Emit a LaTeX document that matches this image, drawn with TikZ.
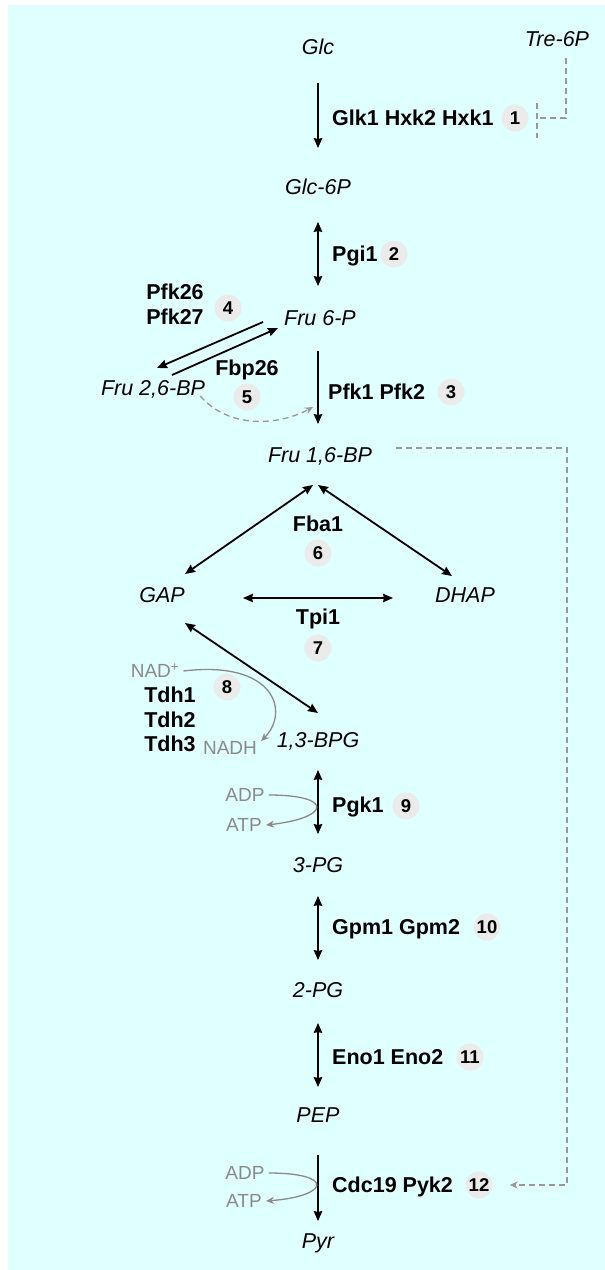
\documentclass[tikz,border=0pt]{standalone}
\usepackage{fontspec}
\setmainfont{Liberation Sans}
\usetikzlibrary{arrows.meta}

\definecolor{bgcyan}{HTML}{E0FFFF}
\definecolor{numgray}{HTML}{EBEBEB}
\definecolor{cofgray}{HTML}{8A8A8A}
\definecolor{reggray}{HTML}{999999}

\tikzset{
    met/.style={inner sep=0, text height=15.5pt, text depth=0pt,
        font=\fontsize{21.5}{25}\selectfont\itshape},
    enz/.style={inner sep=0, text height=15.5pt, text depth=0pt,
        font=\fontsize{21.5}{25}\selectfont\bfseries},
    num/.style={circle, fill=numgray, minimum size=27pt, inner sep=0,
        font=\fontsize{18.5}{20}\selectfont\bfseries},
    cof/.style={inner xsep=4pt, inner ysep=0, text height=13.5pt, text depth=0pt,
        text=cofgray, font=\fontsize{19}{22}\selectfont},
    reg/.style={draw=reggray, line width=1.3pt, dash pattern=on 6pt off 4pt}
}

\begin{document}
\begin{tikzpicture}[x=1pt, y=1pt]
\useasboundingbox (0, 0) rectangle (605, -1270);
\fill[bgcyan] (8, -5) rectangle (605, -1270);

% metabolites
\begin{scope}[every node/.style={met}]
    \node (glc) at (318, -47) {Glc};
    \node (tre6p) at (557, -39) {Tre-6P};
    \node (glc6p) at (318, -187) {Glc-6P};
    \node (fru6p) at (320, -318) {Fru 6-P};
    \node (fru26bp) at (153, -388) {Fru 2,6-BP};
    \node (fru16bp) at (320, -455) {Fru 1,6-BP};
    \node (gap) at (162, -595) {GAP};
    \node (dhap) at (465, -595) {DHAP};
    \node (bpg13) at (318, -740) {1,3-BPG};
    \node (pg3) at (318, -865) {3-PG};
    \node (pg2) at (318, -990) {2-PG};
    \node (pep) at (318, -1115) {PEP};
    \node (pyr) at (318, -1241) {Pyr};
\end{scope}

% enzymes
\begin{scope}[every node/.style={enz}]
    \node[anchor=west] (glk) at (332, -118) {Glk1 Hxk2 Hxk1};
    \node[anchor=west] (pgi) at (332, -254) {Pgi1};
    \node[anchor=west] (pfk) at (328, -392) {Pfk1 Pfk2};
    \node (pfk26) at (175, -292) {Pfk26};
    \node (pfk27) at (175, -317) {Pfk27};
    \node (fbp) at (247, -368) {Fbp26};
    \node (fba) at (318, -524) {Fba1};
    \node (tpi) at (318, -617) {Tpi1};
    \node (tdh1) at (170, -695) {Tdh1};
    \node (tdh2) at (170, -720) {Tdh2};
    \node (tdh3) at (170, -744) {Tdh3};
    \node[anchor=west] (pgk) at (332, -805) {Pgk1};
    \node[anchor=west] (gpm) at (332, -927) {Gpm1 Gpm2};
    \node[anchor=west] (eno) at (332, -1057) {Eno1 Eno2};
    \node[anchor=west] (pyk) at (332, -1185) {Cdc19 Pyk2};
\end{scope}

% step numbers
\begin{scope}[every node/.style={num}]
    \node (c1) at (515, -118) {1};
    \node (c2) at (394, -254) {2};
    \node (c3) at (451, -392) {3};
    \node (c4) at (228, -308) {4};
    \node (c5) at (247, -397) {5};
    \node (c6) at (318, -553) {6};
    \node (c7) at (318, -648) {7};
    \node (c8) at (227, -687) {8};
    \node (c9) at (406, -806) {9};
    \node (c10) at (487, -927) {10};
    \node (c11) at (470, -1057) {11};
    \node (c12) at (479, -1185) {12};
\end{scope}

% cofactors
\begin{scope}[every node/.style={cof}]
    \node (nad) at (155, -671) {NAD\textsuperscript{+}};
    \node (nadh) at (230, -748) {NADH};
    \node (adp1) at (245, -795) {ADP};
    \node (atp1) at (244, -825) {ATP};
    \node (adp2) at (245, -1173) {ADP};
    \node (atp2) at (244, -1201) {ATP};
\end{scope}

\coordinate (inh) at (537, -118);
\coordinate (pfkact) at (313, -407);
\coordinate (ffcorner) at (567, -448);

\begin{scope}[>={Stealth[length=10pt, width=8.5pt, inset=1pt]},
              every edge/.style={draw=black, line width=1.8pt}]
    \path [->] (glc) edge [shorten <=28pt, shorten >=31pt] (glc6p);
    \path [<->] (glc6p) edge [shorten <=27pt, shorten >=24pt] (glc6p |- fru6p.north);
    \path [->] (glc6p |- fru6p.south) edge [shorten <=25pt, shorten >=23pt] (fru16bp.north -| glc6p);

    \path [->] ([shift={(-57,-4)}]fru6p.center) edge ([shift={(4,20)}]fru26bp.center);
    \path [->] ([shift={(19,13)}]fru26bp.center) edge ([shift={(-42,-10)}]fru6p.center);

    \path [<->] ([shift={(-7,-30)}]fru16bp.center) edge ([shift={(23,21)}]gap.center);
    \path [<->] ([shift={(-2,-30)}]fru16bp.center) edge ([shift={(-13,19)}]dhap.center);
    \path [<->] ([shift={(81,-3)}]gap.center) edge ([shift={(-72,-3)}]dhap.center);
    \path [<->] ([shift={(23,-28)}]gap.center) edge ([shift={(0,27)}]bpg13.center);

    \path [<->] (bpg13) edge [shorten <=22pt, shorten >=23pt] (pg3);
    \path [<->] (pg3) edge [shorten <=23pt, shorten >=22pt] (pg2);
    \path [<->] (pg2) edge [shorten <=25pt, shorten >=20pt] (pep);
    \path [->] (pep) edge [shorten <=32pt, shorten >=12pt] (pyr);
\end{scope}

\begin{scope}[>={Stealth[length=8pt, width=7pt]}]
    \draw [->, cofgray, line width=1.3pt] (nad.east) .. controls (275, -660) and (290, -712) .. (nadh.north east);
    \draw [->, cofgray, line width=1.3pt] (adp1.east) .. controls (335, -795) and (330, -818) .. (atp1.east);
    \draw [->, cofgray, line width=1.3pt] (adp2.east) .. controls (335, -1173) and (330, -1196) .. (atp2.east);

    \draw [reg, shorten <=11pt] ([xshift=9pt]tre6p.south) |- (inh);
    \draw [reg] ([yshift=15pt]inh) -- ([yshift=-20pt]inh);
    \draw [reg, ->] ([xshift=-5pt]fru26bp.south east) .. controls (230, -430) and (280, -425) .. (pfkact);
    \draw [reg, ->, shorten >=17pt] ([xshift=24pt, yshift=7pt]fru16bp.east) -- (ffcorner) |- (c12);
\end{scope}
\end{tikzpicture}
\end{document}
